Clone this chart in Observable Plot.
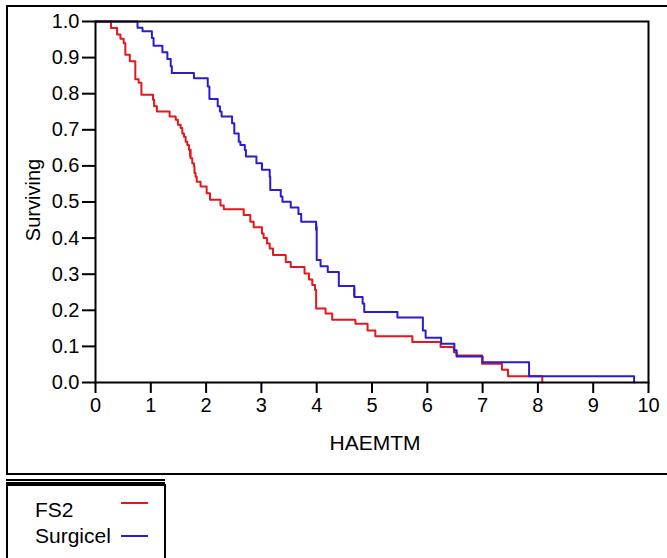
<!DOCTYPE html>
<html>
<head>
<meta charset="utf-8">
<script src="https://cdn.jsdelivr.net/npm/d3@7"></script>
<script src="https://cdn.jsdelivr.net/npm/@observablehq/plot@0.6"></script>
<style>
  body { margin: 0; background: #fff; font-family: "Liberation Sans", Arial, sans-serif; }
  #wrap { position: relative; width: 667px; height: 558px; overflow: hidden; background: #fff; }
  #chart { position: absolute; left: 0; top: 0; }
  #chart svg g[aria-label$="tick label"] { font-size: 20px; }
  .outer { position: absolute; left: 6px; top: 5px; width: 720px; height: 466px; border: 2px solid #000; pointer-events: none; }
  .dl { position: absolute; left: 6px; width: 159px; height: 1.5px; background: #000; }
  .lbox { position: absolute; left: 6px; top: 484px; width: 156px; height: 120px; border: 2px solid #000; }
  .ltext { position: absolute; left: 35px; font-size: 21px; line-height: 1; color: #000; }
  .lline { position: absolute; left: 121px; width: 27px; height: 2px; }
</style>
</head>
<body>
<div id="wrap">
  <div id="chart"></div>
  <div class="outer"></div>
  <div id="legend"></div>
</div>
<script>
// ---- data ----
const seriesNames = ["FS2", "Surgicel"];
const seriesColors = ["#e3171c", "#2b1ccf"];
const xLabel = "HAEMTM";
const yLabel = "Surviving";
const xTicks = [0, 1, 2, 3, 4, 5, 6, 7, 8, 9, 10];
const yTicks = [0, 0.1, 0.2, 0.3, 0.4, 0.5, 0.6, 0.7, 0.8, 0.9, 1.0];

const fs2Time = [0, 0.28, 0.39, 0.45, 0.51, 0.54, 0.62, 0.72, 0.78, 0.83, 1.04, 1.06, 1.11, 1.34, 1.45, 1.49, 1.54, 1.57, 1.60, 1.63, 1.66, 1.69, 1.72, 1.75, 1.78, 1.79, 1.81, 1.83, 1.90, 2.01, 2.07, 2.26, 2.32, 2.68, 2.80, 2.86, 3.01, 3.04, 3.10, 3.15, 3.21, 3.44, 3.53, 3.78, 3.86, 3.92, 3.97, 3.99, 4.16, 4.28, 4.70, 4.92, 5.06, 5.73, 6.24, 6.48, 6.53, 6.99, 7.35, 7.46, 8.08];
const fs2Surv = [1.0, 0.982, 0.964, 0.952, 0.94, 0.908, 0.89, 0.84, 0.83, 0.797, 0.783, 0.765, 0.751, 0.737, 0.728, 0.714, 0.705, 0.69, 0.681, 0.667, 0.658, 0.645, 0.621, 0.607, 0.598, 0.58, 0.57, 0.556, 0.543, 0.524, 0.506, 0.49, 0.48, 0.464, 0.445, 0.43, 0.413, 0.40, 0.385, 0.371, 0.353, 0.334, 0.32, 0.302, 0.285, 0.27, 0.256, 0.205, 0.191, 0.174, 0.163, 0.144, 0.128, 0.112, 0.098, 0.084, 0.075, 0.052, 0.035, 0.017, 0.0];
const fs2CensorTime = [1.71];
const fs2CensorSurv = [0.635];

const surgTime = [0, 0.76, 0.85, 1.02, 1.05, 1.21, 1.30, 1.36, 1.38, 1.78, 2.03, 2.06, 2.21, 2.25, 2.28, 2.47, 2.51, 2.59, 2.62, 2.70, 2.72, 2.91, 3.01, 3.15, 3.16, 3.35, 3.38, 3.53, 3.67, 3.72, 3.99, 4.00, 4.07, 4.20, 4.40, 4.68, 4.83, 4.86, 5.46, 5.92, 5.97, 6.25, 6.49, 6.53, 7.00, 7.84, 9.74];
const surgSurv = [1.0, 0.983, 0.973, 0.954, 0.933, 0.915, 0.896, 0.876, 0.857, 0.843, 0.82, 0.785, 0.765, 0.751, 0.737, 0.718, 0.69, 0.667, 0.658, 0.644, 0.626, 0.607, 0.589, 0.57, 0.533, 0.515, 0.501, 0.485, 0.467, 0.445, 0.431, 0.339, 0.322, 0.306, 0.267, 0.237, 0.219, 0.195, 0.18, 0.144, 0.124, 0.107, 0.089, 0.072, 0.056, 0.017, 0.0];
const surgCensorTime = [3.99, 4.68];
const surgCensorSurv = [0.431, 0.25];

// ---- tables ----
const steps = [
  ...fs2Time.map((t, i) => ({series: seriesNames[0], t, s: fs2Surv[i]})),
  ...surgTime.map((t, i) => ({series: seriesNames[1], t, s: surgSurv[i]}))
];
const censors = [
  ...fs2CensorTime.map((t, i) => ({series: seriesNames[0], t, s: fs2CensorSurv[i]})),
  ...surgCensorTime.map((t, i) => ({series: seriesNames[1], t, s: surgCensorSurv[i]}))
];

const plot = Plot.plot({
  width: 667,
  height: 478,
  marginLeft: 95,
  marginRight: 19,
  marginTop: 21,
  marginBottom: 96,
  style: {fontFamily: '"Liberation Sans", Arial, sans-serif', fontSize: "20px", color: "#000", background: "#fff", overflow: "visible"},
  x: {domain: [0, 10]},
  y: {domain: [0, 1]},
  color: {domain: seriesNames, range: seriesColors},
  marks: [
    Plot.axisX({ticks: xTicks, tickSize: 11, tickPadding: 4, label: null, strokeWidth: 2}),
    Plot.axisY({ticks: yTicks, tickFormat: ".1f", tickSize: 13, tickPadding: 3, label: null, strokeWidth: 2}),
    Plot.line(steps, {x: "t", y: "s", z: "series", stroke: "series", curve: "step-after", strokeWidth: 2}),
    Plot.link(censors, {x1: "t", x2: "t", y1: d => d.s + 0.01, y2: d => d.s - 0.01, stroke: "series", strokeWidth: 2}),
    Plot.frame({stroke: "#000", strokeWidth: 2}),
    Plot.text([xLabel], {x: 5, y: 0, dx: 3, dy: 61, fontSize: 21, fill: "#000"}),
    Plot.text([yLabel], {x: 0, y: 0.5, rotate: -90, dx: -62, dy: -2, fontSize: 20, fill: "#000"})
  ]
});
document.getElementById("chart").appendChild(plot);

// ---- legend (below the svg) ----
const legend = document.getElementById("legend");
legend.innerHTML = `
  <div class="dl" style="top:479px"></div>
  <div class="dl" style="top:482px"></div>
  <div class="lbox"></div>
`;
const legendTextTop = [499, 525];
const legendLineTop = [502, 535];
seriesNames.forEach((name, i) => {
  const t = document.createElement("div");
  t.className = "ltext";
  t.style.top = legendTextTop[i] + "px";
  t.textContent = name;
  legend.appendChild(t);
  const l = document.createElement("div");
  l.className = "lline";
  l.style.top = legendLineTop[i] + "px";
  l.style.background = seriesColors[i];
  legend.appendChild(l);
});
</script>
</body>
</html>
